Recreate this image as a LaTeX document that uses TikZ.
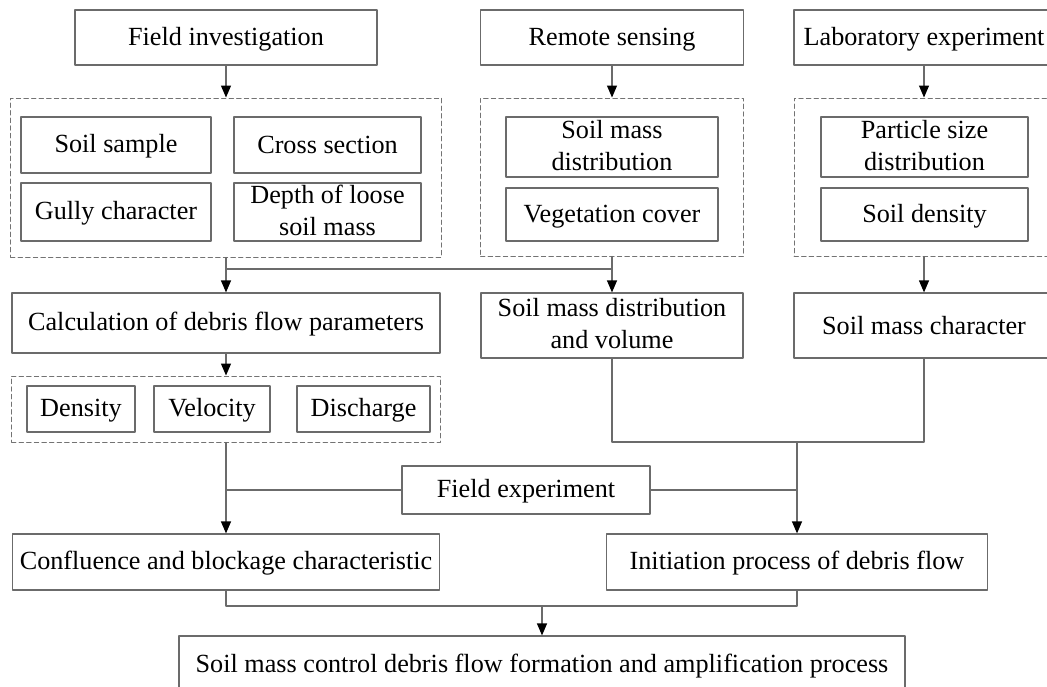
\documentclass[tikz,border=0pt]{standalone}
\usepackage{fontspec}
\setmainfont{Liberation Serif}
\usetikzlibrary{arrows.meta}

\begin{document}
\begin{tikzpicture}[
  x=0.5pt,
  y=-0.5pt,
  line cap=round,
  line join=round,
  box/.style={
    draw=black!58,
    line width=0.6pt,
    fill=white,
    align=center,
    inner sep=0pt,
    font=\fontsize{13.1}{16}\selectfont,
    execute at begin node=\rule{0pt}{10.5pt},
    execute at end node=\rule[-2pt]{0pt}{2pt}
  },
  group/.style={
    draw=black!55,
    line width=0.5pt,
    dash pattern=on 2.2pt off 1.6pt,
    inner sep=0pt
  },
  link/.style={
    line width=0.6pt,
    draw=black!58
  },
  arrow/.style={
    -{Triangle[length=6pt,width=5pt,color=black]},
    line width=0.6pt,
    draw=black!58
  }
]
\useasboundingbox (0,0) rectangle (1047,686);

% ------------------------------------------------
% Data sources
% ------------------------------------------------
\node[box, minimum width=151pt, minimum height=27.5pt] (fieldinv) at (226,37.5)
{Field investigation};

\node[box, minimum width=131.5pt, minimum height=27.5pt] (remote) at (612,37.5)
{Remote sensing};

\node[box, minimum width=130pt, minimum height=27.5pt] (lab) at (924,37.5)
{Laboratory experiment};

% ------------------------------------------------
% Collected items
% ------------------------------------------------
\node[group, minimum width=215.5pt, minimum height=79.5pt] (grp1) at (226,177.5) {};
\node[group, minimum width=131.5pt, minimum height=79pt] (grp2) at (612,177) {};
\node[group, minimum width=130pt, minimum height=79pt] (grp3) at (924,177) {};

\node[box, minimum width=95pt, minimum height=28pt] (sample) at (116,145)
{Soil sample};

\node[box, minimum width=93.5pt, minimum height=28pt] (section) at (327.5,145)
{Cross section};

\node[box, minimum width=95pt, minimum height=29pt] (gully) at (116,212)
{Gully character};

\node[box, minimum width=93.5pt, minimum height=29pt] (depth) at (327.5,212)
{Depth of loose\\soil mass};

\node[box, minimum width=106pt, minimum height=30pt] (massdist) at (612,147)
{Soil mass\\distribution};

\node[box, minimum width=106pt, minimum height=26.5pt] (vegcover) at (612,214.5)
{Vegetation cover};

\node[box, minimum width=103.5pt, minimum height=30pt] (particle) at (924.5,147)
{Particle size\\distribution};

\node[box, minimum width=103.5pt, minimum height=26.5pt] (density) at (924.5,214.5)
{Soil density};

% ------------------------------------------------
% Derived quantities
% ------------------------------------------------
\node[box, minimum width=214pt, minimum height=30pt] (calc) at (226,323)
{Calculation of debris flow parameters};

\node[box, minimum width=131pt, minimum height=32.5pt] (soilvol) at (612,325.5)
{Soil mass distribution\\and volume};

\node[box, minimum width=130pt, minimum height=32.5pt] (soilchar) at (924,325.5)
{Soil mass character};

\node[group, minimum width=214.5pt, minimum height=33pt] (grp4) at (226,409) {};

\node[box, minimum width=54pt, minimum height=23pt] (dens) at (81,409)
{Density};

\node[box, minimum width=58pt, minimum height=23pt] (velo) at (212,409)
{Velocity};

\node[box, minimum width=66.5pt, minimum height=23pt] (disch) at (363.5,409)
{Discharge};

% ------------------------------------------------
% Experiment and processes
% ------------------------------------------------
\node[box, minimum width=124pt, minimum height=24pt] (fieldexp) at (526,490)
{Field experiment};

\node[box, minimum width=213.5pt, minimum height=28pt] (confl) at (226,562)
{Confluence and blockage characteristic};

\node[box, minimum width=190.5pt, minimum height=28pt] (initiation) at (797,562)
{Initiation process of debris flow};

\node[box, minimum width=363pt, minimum height=29pt] (final) at (542,665)
{Soil mass control debris flow formation and amplification process};

% junction points
\coordinate (split) at (226,269);
\coordinate (merge) at (797,442);
\coordinate (join) at (542,606);

% ------------------------------------------------
% Connectors
% ------------------------------------------------
\draw[arrow] (fieldinv) -- (grp1);
\draw[arrow] (remote) -- (grp2);
\draw[arrow] (lab) -- (grp3);

\draw[arrow] (grp1.south) -- (calc.north);
\draw[link] (split) -- (soilvol.north |- split);
\draw[arrow] (grp2.south) -- (soilvol.north);
\draw[arrow] (grp3.south) -- (soilchar.north);

\draw[arrow] (calc) -- (grp4);

\draw[link] (soilvol.south) |- (merge) -| (soilchar.south);
\draw[arrow] (merge) -- (initiation.north);
\draw[arrow] (grp4.south) -- (confl.north);

\draw[link] (fieldexp.west) -- (grp4.south |- fieldexp.west);
\draw[link] (fieldexp.east) -- (merge |- fieldexp.east);

\draw[link] (confl.south) |- (join) -| (initiation.south);
\draw[arrow] (join) -- (final.north);

\end{tikzpicture}
\end{document}
